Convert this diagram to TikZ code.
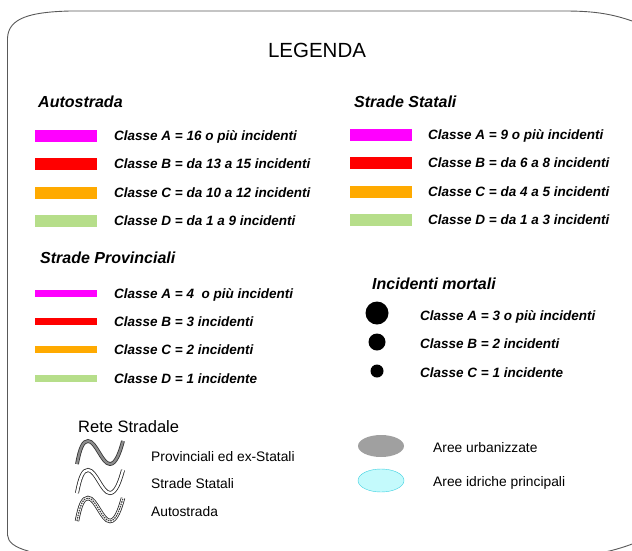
\documentclass[tikz,border=0pt]{standalone}
\usepackage{fontspec}
\setmainfont{Liberation Sans}
\usetikzlibrary{shapes.geometric}

\definecolor{classA}{RGB}{255,0,255}
\definecolor{classB}{RGB}{255,0,0}
\definecolor{classC}{RGB}{255,170,0}
\definecolor{classD}{RGB}{182,222,138}
\definecolor{urban}{RGB}{160,160,160}
\definecolor{water}{RGB}{196,250,252}
\definecolor{waterline}{RGB}{60,208,224}

% one wave of the road symbol
\newcommand{\wavepath}{(77,464) .. controls (80,448) and (83,441) .. (88,441) .. controls (96,441) and (102,464) .. (110,464) .. controls (116,464) and (120,452) .. (123,441)}

\begin{document}
\begin{tikzpicture}[x=1pt,y=-1pt,
    frame/.style={draw=black!65,line width=0.9pt},
    title/.style={inner sep=0pt,anchor=base,font=\fontsize{20.5}{24}\selectfont},
    head/.style={inner sep=0pt,anchor=base west,font=\fontsize{16}{19}\selectfont\bfseries\itshape},
    item/.style={inner sep=0pt,anchor=base west,font=\fontsize{13.5}{16}\selectfont\bfseries\itshape},
    plain/.style={inner sep=0pt,anchor=base west,font=\fontsize{13.8}{16}\selectfont},
    wide bar/.style={rectangle,inner sep=0pt,anchor=west,minimum width=62pt,minimum height=12pt},
    thin bar/.style={wide bar,minimum height=7pt},
    dot/.style={circle,fill=black,inner sep=0pt},
    area/.style={ellipse,inner sep=0pt,minimum width=46pt,minimum height=22pt},
    prov road/.style={draw=black!80,line width=3.8pt,postaction={draw=black!45,line width=2.2pt}},
    state road/.style={draw=black!85,line width=4pt,postaction={draw=white,line width=2.4pt}},
    motorway/.style={draw=black!85,line width=4.4pt,postaction={draw=white,line width=2.8pt},
        postaction={draw=black!75,line width=1.2pt,dash pattern=on 1.5pt off 1pt}}]
    \useasboundingbox (0,0) rectangle (632,550);
    \clip (0,0) rectangle (632,550);

    % frame
    \draw[frame] (7.5,38) .. controls (8.5,18) and (30,12) .. (70,11) -- (565,11) .. controls (595,11) and (615,14) .. (640,24);
    \draw[frame] (7.5,38) -- (7.5,535) .. controls (8,542) and (14,547) .. (28,551) -- (40,556);
    \draw[frame] (580,556) .. controls (605,553) and (620,549) .. (640,541);

    \node[title] (legend) at (317,57) {LEGENDA};

    % Autostrada
    \node[head] (auto) at (38,107) {Autostrada};
    \node[wide bar,fill=classA] (autoA) at (35,135.5) {};
    \node[wide bar,fill=classB] (autoB) at (35,163.5) {};
    \node[wide bar,fill=classC] (autoC) at (35,192.5) {};
    \node[wide bar,fill=classD] (autoD) at (35,220.5) {};
    \node[item] (autoAt) at (114,140) {Classe A = 16 o più incidenti};
    \node[item] (autoBt) at (114,168) {Classe B = da 13 a 15 incidenti};
    \node[item] (autoCt) at (114,197) {Classe C = da 10 a 12 incidenti};
    \node[item] (autoDt) at (114,225) {Classe D = da 1 a 9 incidenti};

    % Strade Statali
    \node[head] (stat) at (354,107) {Strade Statali};
    \node[wide bar,fill=classA] (statA) at (350,134.5) {};
    \node[wide bar,fill=classB] (statB) at (350,162.5) {};
    \node[wide bar,fill=classC] (statC) at (350,191.5) {};
    \node[wide bar,fill=classD] (statD) at (350,219.5) {};
    \node[item] (statAt) at (428,139) {Classe A = 9 o più incidenti};
    \node[item] (statBt) at (428,167) {Classe B = da 6 a 8 incidenti};
    \node[item] (statCt) at (428,196) {Classe C = da 4 a 5 incidenti};
    \node[item] (statDt) at (428,224) {Classe D = da 1 a 3 incidenti};

    % Strade Provinciali
    \node[head] (prov) at (40,263) {Strade Provinciali};
    \node[thin bar,fill=classA] (provA) at (35,293.5) {};
    \node[thin bar,fill=classB] (provB) at (35,321.5) {};
    \node[thin bar,fill=classC] (provC) at (35,349.5) {};
    \node[thin bar,fill=classD] (provD) at (35,378.5) {};
    \node[item] (provAt) at (114,298) {Classe A = 4\ \ o più incidenti};
    \node[item] (provBt) at (114,326) {Classe B = 3 incidenti};
    \node[item] (provCt) at (114,354) {Classe C = 2 incidenti};
    \node[item] (provDt) at (114,383) {Classe D = 1 incidente};

    % Incidenti mortali
    \node[head] (mort) at (372,289) {Incidenti mortali};
    \node[dot,minimum size=23pt] (mortA) at (377,313) {};
    \node[dot,minimum size=17pt] (mortB) at (377,342) {};
    \node[dot,minimum size=13pt] (mortC) at (377,371) {};
    \node[item] (mortAt) at (420,320) {Classe A = 3 o più incidenti};
    \node[item] (mortBt) at (420,348) {Classe B = 2 incidenti};
    \node[item] (mortCt) at (420,377) {Classe C = 1 incidente};

    % Rete Stradale
    \node[plain,font=\fontsize{16.5}{19}\selectfont] (rete) at (78,432) {Rete Stradale};
    \draw[prov road] \wavepath;
    \draw[state road,shift={(0,29)}] \wavepath;
    \draw[motorway,shift={(0,57)}] \wavepath;
    \node[plain] (reteP) at (151,461) {Provinciali ed ex-Statali};
    \node[plain] (reteS) at (151,488) {Strade Statali};
    \node[plain] (reteA) at (151,516) {Autostrada};

    % aree
    \node[area,fill=urban] (urb) at (381,446) {};
    \node[area,fill=water,draw=waterline,minimum height=23pt] (idr) at (381,480.5) {};
    \node[plain] (urbt) at (433,452) {Aree urbanizzate};
    \node[plain] (idrt) at (433,486) {Aree idriche principali};
\end{tikzpicture}
\end{document}
